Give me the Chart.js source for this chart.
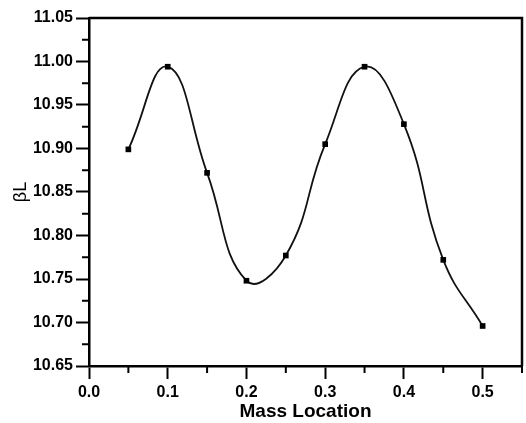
<!DOCTYPE html>
<html>
<head>
<meta charset="utf-8">
<script src="https://cdn.jsdelivr.net/npm/chart.js@4.4.1/dist/chart.umd.min.js"></script>
<style>
  html, body { margin: 0; padding: 0; background: #fff; }
  #wrap { width: 526px; height: 423px; }
</style>
</head>
<body>
<div id="wrap"><canvas id="chart"></canvas></div>
<script>
// mass location along the beam and the frequency parameter
const massLocation = [0.05, 0.10, 0.15, 0.20, 0.25, 0.30, 0.35, 0.40, 0.45, 0.50];
const betaL = [10.899, 10.994, 10.872, 10.748, 10.777, 10.905, 10.994, 10.928, 10.772, 10.696];

const xMinorTicks = [0.05, 0.15, 0.25, 0.35, 0.45, 0.55];
const yMinorTicks = [10.675, 10.725, 10.775, 10.825, 10.875, 10.925, 10.975, 11.025];

/* ===============================
   FRAME + MINOR TICKS
================================ */
const framePlugin = {
  id: "frame",
  afterDraw(chart) {
    const { ctx, chartArea: a, scales } = chart;
    ctx.save();
    ctx.strokeStyle = "#000";
    ctx.lineWidth = 2.5;
    ctx.beginPath();
    ctx.moveTo(a.left, a.top);
    ctx.lineTo(a.right, a.top);
    ctx.lineTo(a.right, a.bottom);
    ctx.stroke();

    ctx.lineWidth = 2;
    ctx.beginPath();
    xMinorTicks.forEach(v => {
      const x = scales.x.getPixelForValue(v);
      ctx.moveTo(x, a.bottom);
      ctx.lineTo(x, a.bottom + 7);
    });
    yMinorTicks.forEach(v => {
      const y = scales.y.getPixelForValue(v);
      ctx.moveTo(a.left, y);
      ctx.lineTo(a.left - 7, y);
    });
    ctx.stroke();
    ctx.restore();
  }
};

const tickFont = { family: "'Liberation Sans', Arial, sans-serif", size: 16, weight: "bold" };

new Chart(document.getElementById("chart"), {
  type: "line",
  data: {
    datasets: [{
      data: massLocation.map((x, i) => ({ x, y: betaL[i] })),
      borderColor: "#111",
      borderWidth: 1.8,
      tension: 0.45,
      pointStyle: "rect",
      pointRadius: 4,
      pointBackgroundColor: "#000",
      pointBorderColor: "#000",
      pointBorderWidth: 0,
      fill: false
    }]
  },
  options: {
    responsive: true,
    maintainAspectRatio: false,
    animation: false,
    layout: { padding: { top: 18, right: 3, left: 0, bottom: 0 } },
    plugins: { legend: { display: false }, tooltip: { enabled: false } },
    scales: {
      x: {
        type: "linear",
        min: 0,
        max: 0.55,
        border: { display: true, color: "#000", width: 2.5 },
        grid: {
          drawOnChartArea: false,
          drawTicks: true,
          tickLength: 13,
          tickWidth: 2,
          tickColor: "#000"
        },
        ticks: {
          stepSize: 0.1,
          includeBounds: false,
          color: "#000",
          font: tickFont,
          padding: 4,
          maxRotation: 0,
          callback: v => v.toFixed(1)
        },
        title: {
          display: true,
          text: "Mass Location",
          color: "#000",
          font: { family: "'Liberation Sans', Arial, sans-serif", size: 19, weight: "bold" },
          padding: { top: 2, bottom: 0 }
        },
        afterFit: s => { s.height = 57; }
      },
      y: {
        min: 10.65,
        max: 11.05,
        border: { display: true, color: "#000", width: 2.5 },
        grid: {
          drawOnChartArea: false,
          drawTicks: true,
          tickLength: 13,
          tickWidth: 2,
          tickColor: "#000"
        },
        ticks: {
          stepSize: 0.05,
          color: "#000",
          font: tickFont,
          padding: 3,
          callback: v => v.toFixed(2)
        },
        title: {
          display: true,
          text: "βL",
          color: "#000",
          font: { family: "'Liberation Sans', Arial, sans-serif", size: 18 },
          padding: { top: 10, bottom: 0 }
        },
        afterFit: s => { s.width = 89; }
      }
    }
  },
  plugins: [framePlugin]
});
</script>
</body>
</html>
